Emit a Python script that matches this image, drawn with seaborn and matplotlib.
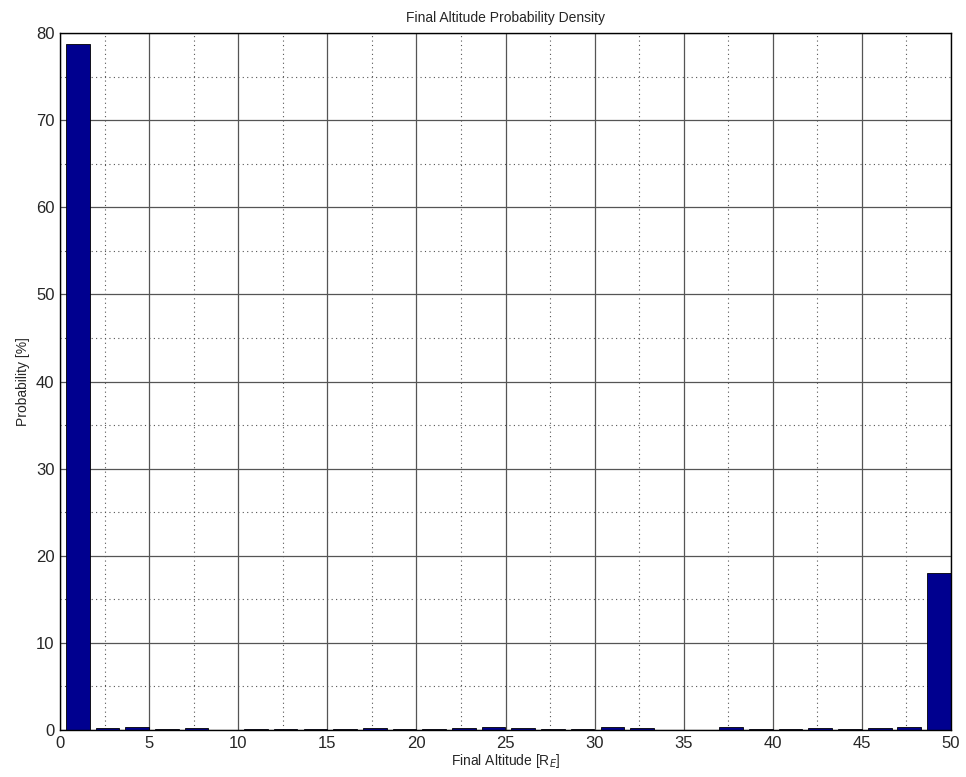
import matplotlib
matplotlib.use("Agg")
import matplotlib.pyplot as plt
from matplotlib.ticker import MultipleLocator
import seaborn as sns
import numpy as np
import pandas as pd

# ヒストグラムの値
bin_centers = [1.0, 2.67, 4.33, 6.0, 7.66, 9.33, 11.0, 12.66, 14.33, 16.0,
               17.66, 19.33, 21.0, 22.66, 24.33, 26.0, 27.66, 29.33, 31.0, 32.66,
               34.33, 36.0, 37.66, 39.33, 41.0, 42.66, 44.33, 46.0, 47.66, 49.33]
probability = [78.7, 0.2, 0.3, 0.1, 0.25, 0.0, 0.1, 0.1, 0.1, 0.1,
               0.2, 0.1, 0.1, 0.2, 0.3, 0.2, 0.1, 0.1, 0.3, 0.2,
               0.0, 0.05, 0.3, 0.1, 0.1, 0.2, 0.1, 0.2, 0.3, 18.0]

df = pd.DataFrame({"altitude": bin_centers, "prob": probability})

sns.set_style("white")
plt.rcParams["font.family"] = ["Liberation Sans", "DejaVu Sans"]

fig = plt.figure(figsize=(9.66, 7.77), dpi=100)
ax = fig.add_axes([60 / 966, 1 - 730 / 777, 891 / 966, 697 / 777])

sns.barplot(data=df, x="altitude", y="prob", native_scale=True, width=0.8,
            color="#00008f", saturation=1, edgecolor="black", linewidth=0.6, ax=ax)

ax.set_xlim(0, 50)
ax.set_ylim(0, 80)
ax.xaxis.set_major_locator(MultipleLocator(5))
ax.xaxis.set_minor_locator(MultipleLocator(2.5))
ax.yaxis.set_major_locator(MultipleLocator(10))
ax.yaxis.set_minor_locator(MultipleLocator(5))
ax.set_axisbelow(True)
ax.grid(which="major", color="#555555", linestyle="-", linewidth=0.9)
ax.grid(which="minor", color="#555555", linestyle=(0, (1, 3)), linewidth=0.8)
ax.tick_params(which="both", direction="in", length=0, labelsize=12, pad=4)

for s in ax.spines.values():
    s.set_color("black")
    s.set_linewidth(1.0)

ax.set_title("Final Altitude Probability Density", fontsize=10, pad=8)
ax.set_xlabel("Final Altitude [R$_E$]", fontsize=10, labelpad=1)
ax.set_ylabel("Probability [%]", fontsize=10, labelpad=4)

fig.savefig("out.png", dpi=100)
